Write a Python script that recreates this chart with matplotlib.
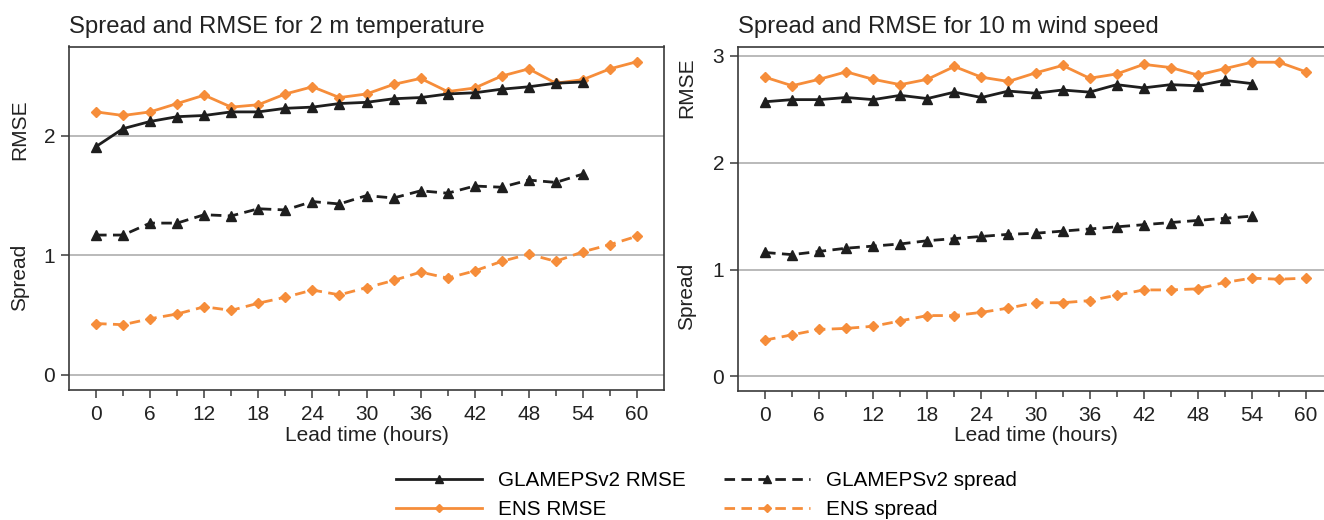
import matplotlib
matplotlib.use("Agg")
import matplotlib.pyplot as plt
from matplotlib.ticker import MultipleLocator, FixedLocator

plt.rcParams['font.family'] = ['Liberation Sans', 'DejaVu Sans']

# ---------------- data ----------------
lead_glameps = list(range(0, 55, 3))
lead_ens = list(range(0, 61, 3))

# 2 m temperature
t2m_glameps_rmse = [1.91, 2.06, 2.12, 2.16, 2.17, 2.20, 2.20, 2.23, 2.24, 2.27,
                    2.28, 2.31, 2.32, 2.35, 2.36, 2.39, 2.41, 2.44, 2.45]
t2m_ens_rmse = [2.20, 2.17, 2.20, 2.27, 2.34, 2.24, 2.26, 2.35, 2.41, 2.32, 2.35,
                2.43, 2.48, 2.37, 2.40, 2.50, 2.56, 2.44, 2.47, 2.56, 2.62]
t2m_glameps_spread = [1.17, 1.17, 1.27, 1.27, 1.34, 1.33, 1.39, 1.38, 1.45, 1.43,
                      1.50, 1.48, 1.54, 1.52, 1.58, 1.57, 1.63, 1.61, 1.68]
t2m_ens_spread = [0.43, 0.42, 0.47, 0.51, 0.57, 0.54, 0.60, 0.65, 0.71, 0.67, 0.73,
                  0.79, 0.86, 0.81, 0.87, 0.95, 1.01, 0.95, 1.03, 1.09, 1.16]

# 10 m wind speed
ws_glameps_rmse = [2.57, 2.59, 2.59, 2.61, 2.59, 2.63, 2.60, 2.66, 2.61, 2.67,
                   2.65, 2.68, 2.66, 2.73, 2.70, 2.73, 2.72, 2.77, 2.74]
ws_ens_rmse = [2.80, 2.72, 2.78, 2.85, 2.78, 2.73, 2.78, 2.90, 2.80, 2.76, 2.84,
               2.91, 2.79, 2.83, 2.92, 2.89, 2.82, 2.88, 2.94, 2.94, 2.85]
ws_glameps_spread = [1.16, 1.14, 1.17, 1.20, 1.22, 1.24, 1.27, 1.29, 1.31, 1.33,
                     1.34, 1.36, 1.38, 1.40, 1.42, 1.44, 1.46, 1.48, 1.50]
ws_ens_spread = [0.34, 0.39, 0.44, 0.45, 0.47, 0.52, 0.57, 0.57, 0.60, 0.64, 0.69,
                 0.69, 0.71, 0.76, 0.81, 0.81, 0.82, 0.88, 0.92, 0.91, 0.92]

titles = ["Spread and RMSE for 2 m temperature", "Spread and RMSE for 10 m wind speed"]
labels = ["GLAMEPSv2 RMSE", "GLAMEPSv2 spread", "ENS RMSE", "ENS spread"]
xlabel = "Lead time (hours)"

# ---------------- style ----------------
BLACK = "#1e1e1e"
ORANGE = "#F68D3A"
GRID = "#b4b4b4"
SPINE = "#3a3a3a"

W, H = 1324, 520
fig = plt.figure(figsize=(W / 100, H / 100), dpi=100)

def px(x0, y0, x1, y1):
    return [x0 / W, 1 - y1 / H, (x1 - x0) / W, (y1 - y0) / H]

ax1 = fig.add_axes(px(69, 46.5, 664, 390))
ax2 = fig.add_axes(px(738, 46.5, 1333, 390.5))

datasets = [
    (ax1, t2m_glameps_rmse, t2m_glameps_spread, t2m_ens_rmse, t2m_ens_spread, (-0.126, 2.747), [0, 1, 2]),
    (ax2, ws_glameps_rmse, ws_glameps_spread, ws_ens_rmse, ws_ens_spread, (-0.131, 3.087), [0, 1, 2, 3]),
]

lw = 2.0
dash = (3.8, 2.3)
handles = None
for i, (ax, g_r, g_s, e_r, e_s, ylim, yticks) in enumerate(datasets):
    h1, = ax.plot(lead_glameps, g_r, color=BLACK, lw=lw, marker='^', ms=7,
                  label=labels[0], zorder=4)
    h2, = ax.plot(lead_glameps, g_s, color=BLACK, lw=lw, marker='^', ms=7,
                  dashes=dash, label=labels[1], zorder=4)
    h3, = ax.plot(lead_ens, e_r, color=ORANGE, lw=lw, marker='D', ms=4.8,
                  label=labels[2], zorder=3)
    h4, = ax.plot(lead_ens, e_s, color=ORANGE, lw=lw, marker='D', ms=4.8,
                  dashes=dash, label=labels[3], zorder=3)
    handles = [h1, h2, h3, h4]

    ax.set_xlim(-3, 63)
    ax.set_ylim(*ylim)
    ax.set_yticks(yticks)
    ax.xaxis.set_major_locator(MultipleLocator(6))
    ax.xaxis.set_minor_locator(FixedLocator(list(range(3, 60, 6))))
    ax.yaxis.grid(True, color=GRID, lw=1.3, zorder=0)
    ax.set_axisbelow(True)
    ax.tick_params(axis='both', which='major', direction='out', length=6,
                   width=1.1, color=SPINE, labelsize=15, labelcolor="#222222", pad=4)
    ax.tick_params(axis='x', which='minor', direction='out', length=4.5,
                   width=1.1, color=SPINE)
    ax.tick_params(axis='x', which='major', pad=5)
    for s in ax.spines.values():
        s.set_color(SPINE)
        s.set_linewidth(1.2)
    ax.set_xlabel(xlabel, fontsize=15, color="#222222", labelpad=1)
    ax.set_title(titles[i], loc='left', fontsize=17.2, color="#222222", pad=10)

# rotated y labels
def ylab(text, x, y):
    fig.text(x / W, 1 - y / H, text, rotation=90, ha='center', va='center',
             fontsize=15, color="#222222")

ylab("RMSE", 20, 130)
ylab("Spread", 20, 277)
ylab("RMSE", 687, 88)
ylab("Spread", 687, 296)

order = [handles[0], handles[2], handles[1], handles[3]]
order_labels = [labels[0], labels[2], labels[1], labels[3]]
fig.legend(order, order_labels, ncol=2, loc='upper left',
           bbox_to_anchor=(396 / W, 1 - 471 / H), frameon=False, fontsize=14.9,
           handlelength=4.15, handletextpad=0.77, columnspacing=1.85,
           labelspacing=0.5, borderpad=0, borderaxespad=0, numpoints=1,
           markerscale=0.8)

fig.savefig("out.png", dpi=100)
